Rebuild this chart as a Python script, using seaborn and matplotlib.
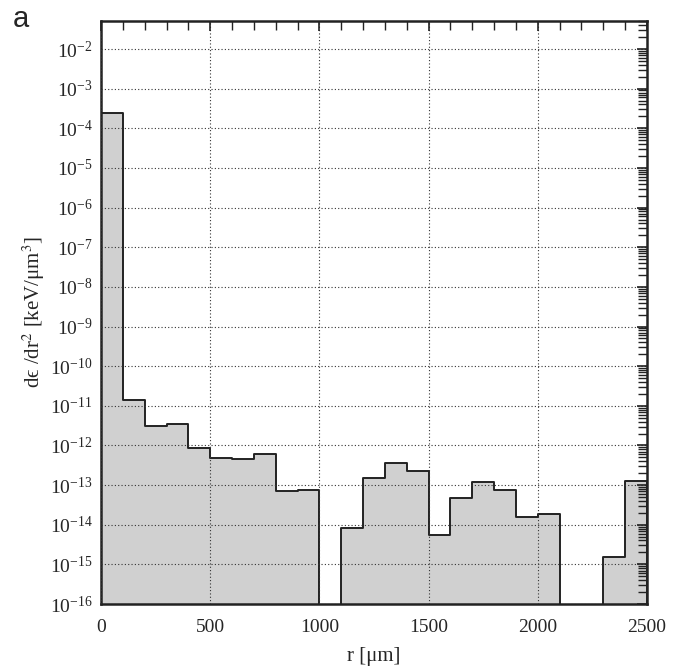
import numpy as np
import pandas as pd
import matplotlib
matplotlib.use("Agg")
import matplotlib.pyplot as plt
import matplotlib.ticker as mticker
import seaborn as sns

# ---- data ----
bin_edges = list(range(0, 2600, 100))  # r [um]
bin_values = [2.4e-4, 1.4e-11, 3.1e-12, 3.4e-12, 8.5e-13,
              4.8e-13, 4.6e-13, 6.2e-13, 7.2e-14, 7.5e-14,
              0.0, 8.5e-15, 1.55e-13, 3.7e-13, 2.3e-13,
              5.5e-15, 4.8e-14, 1.2e-13, 7.6e-14, 1.55e-14,
              1.9e-14, 0.0, 0.0, 1.5e-15, 1.25e-13]
x_ticks = [0, 500, 1000, 1500, 2000, 2500]

centers = [(a + b) / 2 for a, b in zip(bin_edges[:-1], bin_edges[1:])]
df = pd.DataFrame({"r": centers, "w": bin_values})

sns.set_style("white")
plt.rcParams["font.family"] = ["Liberation Serif", "DejaVu Serif"]
plt.rcParams["mathtext.fontset"] = "stix"
plt.rcParams["axes.unicode_minus"] = False

fig = plt.figure(figsize=(6.87, 6.68), dpi=100)
ax = fig.add_axes([0.147, 0.0958, 0.7948, 0.8728])

sns.histplot(data=df, x="r", weights="w", bins=bin_edges, element="step",
             fill=True, color="#d0d0d0", alpha=1.0, edgecolor="#222222",
             linewidth=1.4, ax=ax)
ax.set_yscale("log")
ax.set_xlim(0, 2500)
ax.set_ylim(1e-16, 0.051)

ax.set_xticks(x_ticks)
ax.xaxis.set_minor_locator(mticker.MultipleLocator(100))
ax.yaxis.set_major_locator(mticker.LogLocator(base=10, numticks=40))
ax.yaxis.set_minor_locator(mticker.LogLocator(base=10, subs=np.arange(2, 10), numticks=40))
ax.yaxis.set_minor_formatter(mticker.NullFormatter())

ax.tick_params(which="both", direction="in", top=True, right=True,
               labelsize=14, color="#222222")
ax.tick_params(which="major", length=7.5, width=1.2)
ax.tick_params(which="minor", length=6.5, width=1.0)
ax.tick_params(axis="x", which="major", pad=11)
ax.tick_params(axis="y", which="major", pad=6)

ax.set_axisbelow(False)
ax.grid(True, which="major", linestyle=(0, (1, 2)), color="#333333", linewidth=0.8)

for s in ax.spines.values():
    s.set_linewidth(1.8)
    s.set_color("#222222")

ax.set_xlabel("r [μm]", fontsize=15, labelpad=8)
ax.set_ylabel("dϵ /dr$^2$ [keV/μm$^3$]", fontsize=15, labelpad=2)

fig.text(0.018, 0.993, "a", fontsize=21, family="Liberation Sans", va="top", ha="left")

fig.savefig("out.png", dpi=100)
